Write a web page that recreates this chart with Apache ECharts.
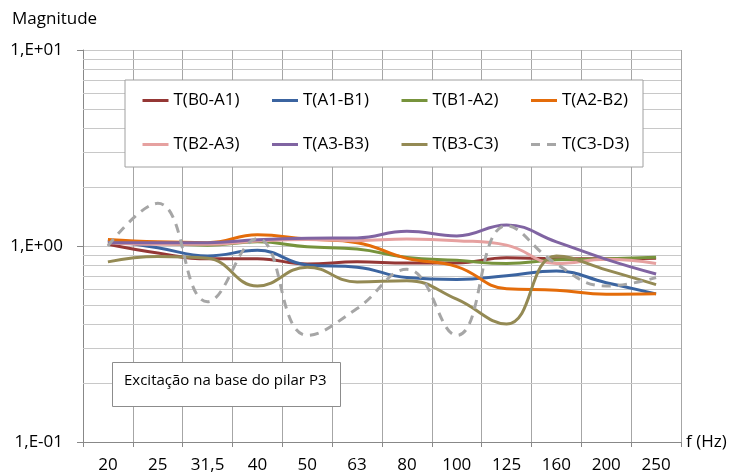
<!DOCTYPE html>
<html>
<head>
<meta charset="utf-8">
<script src="https://cdn.jsdelivr.net/npm/echarts@6/dist/echarts.min.js"></script>
<style>
  html, body { margin: 0; padding: 0; background: #fff; }
  #chart { width: 731px; height: 475px; }
</style>
</head>
<body>
<div id="chart"></div>
<script>
const categories = ['20', '25', '31,5', '40', '50', '63', '80', '100', '125', '160', '200', '250'];

const tB0A1 = [1.02, 0.92, 0.86, 0.86, 0.81, 0.83, 0.82, 0.82, 0.87, 0.86, 0.86, 0.865];
const tA1B1 = [1.07, 0.98, 0.89, 0.95, 0.80, 0.78, 0.69, 0.675, 0.705, 0.745, 0.65, 0.57];
const tB1A2 = [1.05, 1.03, 1.01, 1.05, 0.99, 0.965, 0.875, 0.845, 0.815, 0.85, 0.86, 0.875];
const tA2B2 = [1.08, 1.05, 1.04, 1.14, 1.085, 1.04, 0.865, 0.785, 0.605, 0.595, 0.567, 0.57];
const tB2A3 = [1.04, 1.02, 1.02, 1.06, 1.08, 1.065, 1.085, 1.065, 1.01, 0.815, 0.855, 0.815];
const tA3B3 = [1.04, 1.04, 1.04, 1.075, 1.095, 1.10, 1.19, 1.125, 1.28, 1.05, 0.855, 0.72];
const tB3C3 = [0.83, 0.885, 0.865, 0.625, 0.78, 0.655, 0.665, 0.535, 0.40, 0.89, 0.755, 0.635];
const tC3D3 = [1.00, 1.65, 0.52, 1.09, 0.35, 0.48, 0.76, 0.35, 1.27, 0.81, 0.625, 0.69];

const seriesNames = ['T(B0-A1)', 'T(A1-B1)', 'T(B1-A2)', 'T(A2-B2)', 'T(B2-A3)', 'T(A3-B3)', 'T(B3-C3)', 'T(C3-D3)'];
const seriesData = [tB0A1, tA1B1, tB1A2, tA2B2, tB2A3, tA3B3, tB3C3, tC3D3];
const seriesColors = ['#953735', '#3B64A0', '#77933C', '#E46C0A', '#E6A1A0', '#8064A2', '#948A54', '#A6A6A6'];

const yTickValues = [0.1, 1, 10];
const yTickLabels = ['1,E-01', '1,E+00', '1,E+01'];
// log grid lines between the decades
const minorGrid = [0.2, 0.3, 0.4, 0.5, 0.6, 0.7, 0.8, 0.9, 2, 3, 4, 5, 6, 7, 8, 9];

const font = '"Open Sans", sans-serif';

const chart = echarts.init(document.getElementById('chart'));

const series = seriesNames.map((name, i) => ({
  name: name,
  type: 'line',
  data: seriesData[i],
  smooth: 0.45,
  symbol: 'none',
  z: 3,
  lineStyle: {
    color: seriesColors[i],
    width: 3,
    type: i === 7 ? [9, 7] : 'solid'
  },
  itemStyle: { color: seriesColors[i] }
}));

// helper series only carrying the minor horizontal grid lines
series.push({
  type: 'line',
  data: [],
  silent: true,
  markLine: {
    silent: true,
    z: 1,
    symbol: 'none',
    label: { show: false },
    lineStyle: { color: '#c8c8c8', width: 1, type: 'solid' },
    data: minorGrid.map(v => ({ yAxis: v }))
  }
});

const options = {
  animation: false,
  backgroundColor: '#fff',
  textStyle: { fontFamily: font },
  title: {
    text: 'Magnitude',
    left: 12,
    top: 11,
    padding: 0,
    textStyle: { fontFamily: font, fontSize: 17, fontWeight: 'normal', color: '#000' }
  },
  grid: { left: 83, right: 50, top: 50, bottom: 33 },
  legend: {
    data: seriesNames,
    left: 125,
    top: 80,
    width: 505,
    padding: [12, 11, 14, 16],
    itemGap: 27,
    itemWidth: 26,
    itemHeight: 14,
    backgroundColor: '#fff',
    borderColor: '#a0a0a0',
    borderWidth: 1,
    itemStyle: { opacity: 0 },
    lineStyle: { width: 3 },
    textStyle: { fontFamily: font, fontSize: 17, color: '#000', width: 70, lineHeight: 16 }
  },
  xAxis: {
    type: 'category',
    data: categories,
    boundaryGap: true,
    name: 'f (Hz)',
    nameLocation: 'end',
    nameGap: 5,
    nameTextStyle: { fontFamily: font, fontSize: 17, color: '#000' },
    axisLine: { lineStyle: { color: '#888', width: 1 } },
    axisTick: { show: true, interval: 0, length: 5, lineStyle: { color: '#888' } },
    axisLabel: { interval: 0, fontFamily: font, fontSize: 17, color: '#000', margin: 15 },
    splitLine: { show: true, interval: 0, lineStyle: { color: '#a6a6a6', width: 1 } }
  },
  yAxis: {
    type: 'log',
    logBase: 10,
    min: 0.1,
    max: 10,
    axisLine: { show: true, lineStyle: { color: '#888', width: 1 } },
    axisTick: { show: true, length: 6, lineStyle: { color: '#888' } },
    axisLabel: {
      fontFamily: font,
      fontSize: 17,
      color: '#000',
      margin: 20,
      formatter: function (v) {
        const idx = yTickValues.findIndex(t => Math.abs(t - v) < 1e-9);
        return idx >= 0 ? yTickLabels[idx] : '';
      }
    },
    splitLine: { show: true, lineStyle: { color: '#c8c8c8', width: 1 } }
  },
  graphic: [
    {
      type: 'rect',
      left: 112,
      top: 362,
      z: 100,
      shape: { width: 228, height: 44 },
      style: { fill: '#fff', stroke: '#8c8c8c', lineWidth: 1 }
    },
    {
      type: 'text',
      left: 124,
      top: 373,
      z: 101,
      style: {
        text: 'Excitação na base do pilar P3',
        font: '15px "Open Sans", sans-serif',
        fill: '#000'
      }
    }
  ],
  series: series
};

chart.setOption(options);
</script>
</body>
</html>
